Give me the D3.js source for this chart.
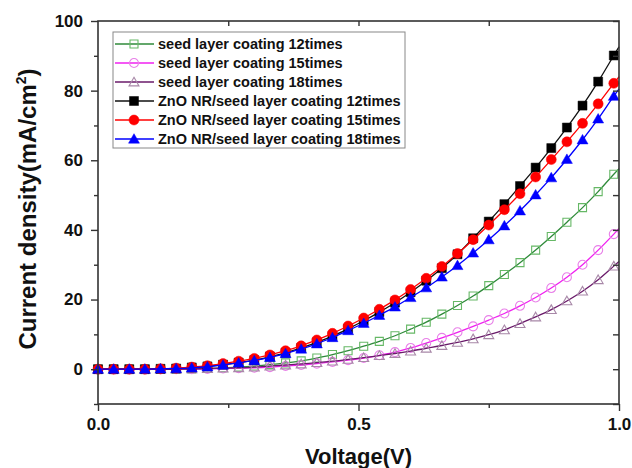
<!DOCTYPE html>
<html>
<head>
<meta charset="utf-8">
<script src="https://cdn.jsdelivr.net/npm/d3@7"></script>
<style>
  body { margin: 0; background: #fff; }
  svg { font-family: 'Liberation Sans', Arial, sans-serif; }
</style>
</head>
<body>
<svg id="chart" width="632" height="468"></svg>
<script>
// voltage of each plotted marker
var voltage = [0.00, 0.03, 0.06, 0.09, 0.12, 0.15, 0.18, 0.21, 0.24, 0.27, 0.30, 0.33,
  0.36, 0.39, 0.42, 0.45, 0.48, 0.51, 0.54, 0.57, 0.60, 0.63, 0.66, 0.69, 0.72, 0.75,
  0.78, 0.81, 0.84, 0.87, 0.90, 0.93, 0.96, 0.99];

var seed12 = [0, 0, 0, 0, 0, 0, 0.1, 0.2, 0.4, 0.6, 0.9, 1.3, 1.8, 2.4, 3.2, 4.2, 5.3,
  6.6, 8.0, 9.6, 11.5, 13.5, 15.8, 18.3, 21.0, 24.0, 27.2, 30.6, 34.2, 38.1, 42.2, 46.4, 51.0, 56.0];
var seed15 = [0, 0, 0, 0, 0, 0, 0, 0.1, 0.2, 0.3, 0.4, 0.6, 0.9, 1.2, 1.6, 2.1, 2.6,
  3.2, 4.0, 4.9, 6.1, 7.5, 9.0, 10.6, 12.3, 14.1, 16.0, 18.2, 20.6, 23.3, 26.4, 30.0, 34.2, 38.8];
var seed18 = [0, 0, 0, 0, 0, 0, 0.1, 0.2, 0.3, 0.4, 0.6, 0.9, 1.2, 1.5, 1.9, 2.3, 2.8,
  3.3, 3.9, 4.5, 5.2, 6.0, 6.8, 7.7, 8.7, 9.9, 11.3, 13.1, 15.0, 17.1, 19.6, 22.4, 25.7, 29.6];
var nr12 = [0, 0, 0, 0, 0.1, 0.2, 0.5, 0.8, 1.3, 1.9, 2.6, 3.6, 4.7, 6.1, 7.7, 9.5, 11.6,
  13.9, 16.4, 19.1, 22.1, 25.4, 29.0, 33.0, 37.6, 42.4, 47.4, 52.6, 57.9, 63.5, 69.4, 75.7, 82.6, 90.1];
var nr15 = [0, 0, 0, 0, 0.1, 0.3, 0.6, 1.0, 1.6, 2.3, 3.1, 4.1, 5.3, 6.7, 8.4, 10.3, 12.4,
  14.7, 17.2, 19.9, 22.9, 26.1, 29.5, 33.2, 37.2, 41.4, 45.8, 50.4, 55.2, 60.2, 65.3, 70.6, 76.2, 82.1];
var nr18 = [0, 0, 0, 0, 0.1, 0.2, 0.4, 0.7, 1.2, 1.8, 2.5, 3.4, 4.5, 5.8, 7.3, 9.1, 11.1,
  13.2, 15.5, 17.9, 20.6, 23.4, 26.5, 29.8, 33.4, 37.2, 41.2, 45.5, 50.1, 55.0, 60.3, 65.9, 71.9, 78.4];

// where each fitted line meets the right frame (V = 1.0)
var lineEndV = 1.0;
var lineEnd = [57.6, 40.4, 30.9, 92.6, 84.0, 80.5];

var labels = ['seed layer coating 12times', 'seed layer coating 15times', 'seed layer coating 18times',
  'ZnO NR/seed layer coating 12times', 'ZnO NR/seed layer coating 15times', 'ZnO NR/seed layer coating 18times'];

var xMajor = [0, 0.5, 1.0];
var xMinor = [0.25, 0.75];
var yMajor = [0, 20, 40, 60, 80, 100];
var yMinor = [-10, 10, 30, 50, 70, 90];

var series = [
  { name: labels[0], values: seed12, end: lineEnd[0], line: '#2f8a3a', mark: '#66b866', shape: 'square', filled: false, size: 8 },
  { name: labels[1], values: seed15, end: lineEnd[1], line: '#f020f0', mark: '#e880e8', shape: 'circle', filled: false, size: 9 },
  { name: labels[2], values: seed18, end: lineEnd[2], line: '#6a1a6a', mark: '#a888a8', shape: 'triangle', filled: false, size: 10 },
  { name: labels[3], values: nr12, end: lineEnd[3], line: '#111', mark: '#000', shape: 'square', filled: true, size: 9 },
  { name: labels[4], values: nr15, end: lineEnd[4], line: '#f00', mark: '#f00', shape: 'circle', filled: true, size: 10 },
  { name: labels[5], values: nr18, end: lineEnd[5], line: '#00f', mark: '#00f', shape: 'triangle', filled: true, size: 11 }
];

var svg = d3.select('#chart');
var margin = { left: 98, right: 13, top: 21, bottom: 64 };
var width = 632 - margin.left - margin.right;
var height = 468 - margin.top - margin.bottom;

var x = d3.scaleLinear().domain([0, 1]).range([0, width]);
var y = d3.scaleLinear().domain([-10, 100]).range([height, 0]);

var g = svg.append('g')
    .attr('transform', 'translate(' + margin.left + ',' + margin.top + ')');

function symbolFor(s) {
  var type = s.shape === 'square' ? d3.symbolSquare :
    s.shape === 'circle' ? d3.symbolCircle : d3.symbolTriangle;
  var area = s.shape === 'square' ? s.size * s.size :
    s.shape === 'circle' ? Math.PI * s.size * s.size / 4 : s.size * s.size * 0.43;
  return d3.symbol().type(type).size(area)();
}

var line = d3.line()
    .x(function(d) { return x(d[0]); })
    .y(function(d) { return y(d[1]); })
    .curve(d3.curveMonotoneX);

var plot = g.append('g');

series.forEach(function(s) {
  var pts = voltage.map(function(v, i) { return [v, s.values[i]]; });
  pts.push([lineEndV, s.end]);
  plot.append('path')
      .attr('d', line(pts))
      .attr('fill', 'none')
      .attr('stroke', s.line)
      .attr('stroke-width', 1.3);

  var sym = symbolFor(s);
  plot.append('g').selectAll('path')
      .data(voltage.map(function(v, i) { return [v, s.values[i]]; }))
    .enter().append('path')
      .attr('transform', function(d) {
        var dy = s.shape === 'triangle' ? 1 : 0;
        return 'translate(' + x(d[0]) + ',' + (y(d[1]) + dy) + ')';
      })
      .attr('d', sym)
      .attr('fill', s.filled ? s.mark : 'none')
      .attr('stroke', s.mark)
      .attr('stroke-width', s.filled ? 0.5 : 1.1);
});

// axes
function styleAxis(sel) {
  sel.select('.domain').remove();
  sel.selectAll('line').attr('stroke', '#333').attr('stroke-width', 1.4);
  sel.selectAll('text')
      .attr('fill', '#111')
      .style('font-size', '17px')
      .style('font-weight', 'bold');
}

g.append('g')
    .attr('transform', 'translate(0,' + height + ')')
    .call(d3.axisBottom(x).tickValues(xMajor).tickSize(7).tickPadding(7).tickFormat(d3.format('.1f')))
    .call(styleAxis);
g.append('g')
    .attr('transform', 'translate(0,' + height + ')')
    .call(d3.axisBottom(x).tickValues(xMinor).tickSize(4).tickFormat(''))
    .call(styleAxis);
g.append('g')
    .call(d3.axisTop(x).tickValues(xMinor.concat([0.5])).tickSize(-5).tickFormat(''))
    .call(styleAxis);

g.append('g')
    .call(d3.axisLeft(y).tickValues(yMajor).tickSize(7).tickPadding(8))
    .call(styleAxis);
g.append('g')
    .call(d3.axisLeft(y).tickValues(yMinor).tickSize(4).tickFormat(''))
    .call(styleAxis);
g.append('g')
    .attr('transform', 'translate(' + width + ',0)')
    .call(d3.axisRight(y).tickValues(yMajor.concat(yMinor)).tickSize(-6).tickFormat(''))
    .call(styleAxis);

g.append('rect')
    .attr('width', width)
    .attr('height', height)
    .attr('fill', 'none')
    .attr('stroke', '#333')
    .attr('stroke-width', 1.6);

// axis titles
svg.append('text')
    .attr('x', margin.left + width / 2)
    .attr('y', 464)
    .attr('text-anchor', 'middle')
    .style('font-size', '22px')
    .style('font-weight', 'bold')
    .attr('fill', '#111')
    .text('Voltage(V)');

var yTitle = svg.append('text')
    .attr('transform', 'translate(36,' + (margin.top + y(46)) + ') rotate(-90)')
    .attr('text-anchor', 'middle')
    .style('font-size', '24px')
    .style('font-weight', 'bold')
    .attr('fill', '#111');
yTitle.append('tspan').text('Current density(mA/cm');
yTitle.append('tspan').attr('dy', -10).style('font-size', '14px').text('2');
yTitle.append('tspan').attr('dy', 10).text(')');

// legend
var legend = svg.append('g').attr('transform', 'translate(113,32)');
legend.append('rect')
    .attr('width', 292)
    .attr('height', 116)
    .attr('fill', '#fff')
    .attr('stroke', '#888')
    .attr('stroke-width', 1);

series.forEach(function(s, i) {
  var row = legend.append('g').attr('transform', 'translate(0,' + (12 + i * 19) + ')');
  row.append('line')
      .attr('x1', 2).attr('x2', 41)
      .attr('stroke', s.line)
      .attr('stroke-width', 1.3);
  row.append('path')
      .attr('transform', 'translate(21,' + (s.shape === 'triangle' ? 1 : 0) + ')')
      .attr('d', symbolFor(s))
      .attr('fill', s.filled ? s.mark : 'none')
      .attr('stroke', s.mark)
      .attr('stroke-width', s.filled ? 0.5 : 1.1);
  row.append('text')
      .attr('x', 45)
      .attr('y', 5)
      .style('font-size', '14.5px')
      .style('font-weight', 'bold')
      .attr('fill', '#111')
      .text(s.name);
});
</script>
</body>
</html>
